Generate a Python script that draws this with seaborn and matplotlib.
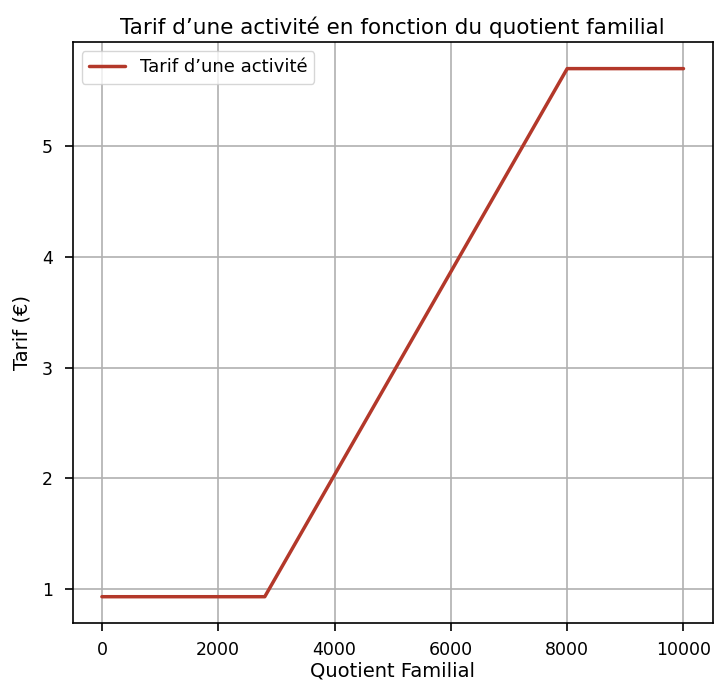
import numpy as np
import pandas as pd
import seaborn as sns
import matplotlib.pyplot as plt

# Données : quotient familial et tarif correspondant
quotient = [0, 2800, 8000, 10000]
tarif = [0.93, 0.93, 5.70, 5.70]

df = pd.DataFrame({'Quotient Familial': quotient, 'Tarif': tarif})

sns.set_style("ticks")
plt.rcParams['font.family'] = ['DejaVu Sans']
plt.rcParams.update({
    'text.color': 'black',
    'axes.labelcolor': 'black',
    'xtick.color': 'black',
    'ytick.color': 'black',
    'axes.edgecolor': 'black',
})

fig, ax = plt.subplots(figsize=(7.14, 6.81), dpi=100)
sns.lineplot(data=df, x='Quotient Familial', y='Tarif', ax=ax,
             color='#b3382a', linewidth=2.5, label='Tarif d\u2019une activité')

ax.grid(True, color='#b0b0b0', linewidth=1.2)
ax.set_axisbelow(True)
ax.tick_params(labelsize=12.5, length=6, width=1.2)
ax.tick_params(axis='y', pad=8.5)
ax.tick_params(axis='x', pad=7)
for s in ax.spines.values():
    s.set_linewidth(1.2)
ax.set_xticks([0, 2000, 4000, 6000, 8000, 10000])
ax.set_xlabel('Quotient Familial', fontsize=14, labelpad=1.5)
ax.set_ylabel('Tarif (€)', fontsize=14, labelpad=7)
ax.set_title('Tarif d\u2019une activité en fonction du quotient familial', fontsize=15.5)
ax.legend(loc='upper left', fontsize=13)

fig.subplots_adjust(left=0.102, right=0.998, top=0.938, bottom=0.085)
fig.savefig('out.png', dpi=100)
